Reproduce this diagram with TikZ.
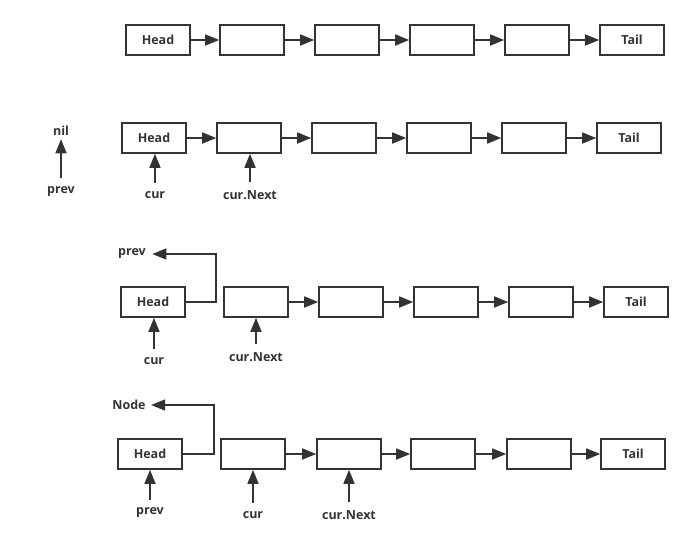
\documentclass[tikz,border=0pt]{standalone}
\usepackage{fontspec}
\setmainfont{Open Sans}
\usetikzlibrary{arrows.meta}
\definecolor{ink}{HTML}{333333}
\tikzset{
  cell/.style={draw=ink,line width=1.6pt,minimum width=64pt,minimum height=30pt,inner sep=0pt,
    font=\bfseries\fontsize{12.5}{14}\selectfont,text=ink},
  lbl/.style={font=\bfseries\fontsize{12.5}{14}\selectfont,text=ink},
  link/.style={draw=ink,line width=1.6pt,-{Triangle[length=14pt,width=11pt]}},
  ptr/.style={link,shorten <=5pt}
}
\begin{document}
\begin{tikzpicture}[x=1pt,y=-1pt]
    \useasboundingbox (0,0) rectangle (692,555);
    % row 1: the list
    \node[cell] (a1) at (158,40) {Head};
    \foreach \n/\x in {2/252,3/347,4/442,5/537}
        \node[cell] (a\n) at (\x,40) {};
    \node[cell] (a6) at (632,40) {Tail};
    \foreach \i/\j in {1/2,2/3,3/4,4/5,5/6}
        \draw[link] (a\i) -- (a\j);

    % row 2: start
    \node[cell] (b1) at (154,138) {Head};
    \foreach \n/\x in {2/249,3/344,4/439,5/534}
        \node[cell] (b\n) at (\x,138) {};
    \node[cell] (b6) at (629,138) {Tail};
    \foreach \i/\j in {1/2,2/3,3/4,4/5,5/6}
        \draw[link] (b\i) -- (b\j);
    \node[lbl] (nil) at (61,131) {nil};
    \node[lbl] (prevB) at (61,192) {prev};
    \draw[ptr] (prevB) -- (nil);
    \node[lbl] (curB) at (155,195) {cur};
    \draw[ptr] (curB) -- (curB |- b1.south);
    \node[lbl] (nextB) at (250,195) {cur.Next};
    \draw[ptr] (nextB) -- (nextB |- b2.south);

    % row 3: head points back to prev
    \node[cell] (c1) at (153,302) {Head};
    \foreach \n/\x in {2/256,3/351,4/446,5/541}
        \node[cell] (c\n) at (\x,302) {};
    \node[cell] (c6) at (636,302) {Tail};
    \foreach \i/\j in {2/3,3/4,4/5,5/6}
        \draw[link] (c\i) -- (c\j);
    \node[lbl] (prevC) at (132,254) {prev};
    \draw[link,shorten >=3pt] (c1.east) -- ++(30,0) |- (prevC);
    \node[lbl] (curC) at (154,361) {cur};
    \draw[ptr] (curC) -- (curC |- c1.south);
    \node[lbl] (nextC) at (256,357) {cur.Next};
    \draw[ptr] (nextC) -- (nextC |- c2.south);

    % row 4: pointers moved on
    \node[cell] (d1) at (150,454) {Head};
    \foreach \n/\x in {2/253,3/349,4/443,5/539}
        \node[cell] (d\n) at (\x,454) {};
    \node[cell] (d6) at (633,454) {Tail};
    \foreach \i/\j in {2/3,3/4,4/5,5/6}
        \draw[link] (d\i) -- (d\j);
    \node[lbl] (nodeD) at (129,405) {Node};
    \draw[link,shorten >=2pt] (d1.east) -- ++(31,0) |- (nodeD);
    \node[lbl] (prevD) at (150,513) {prev};
    \draw[ptr] (prevD) -- (prevD |- d1.south);
    \node[lbl] (curD) at (253,515) {cur};
    \draw[ptr] (curD) -- (curD |- d2.south);
    \node[lbl] (nextD) at (349,515) {cur.Next};
    \draw[ptr] (nextD) -- (nextD |- d3.south);
\end{tikzpicture}
\end{document}
